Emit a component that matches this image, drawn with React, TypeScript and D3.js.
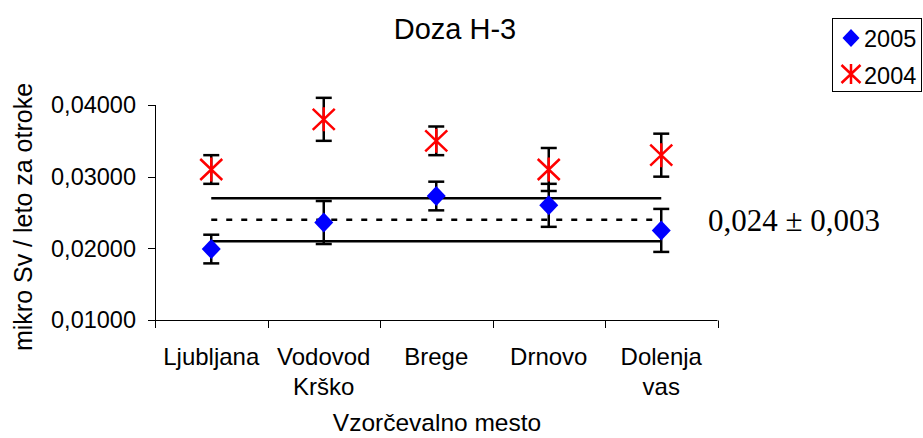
import React from "react";
import * as d3 from "d3";

const categories = ["Ljubljana", "Vodovod Krško", "Brege", "Drnovo", "Dolenja vas"];
const categoryLines = [["Ljubljana"], ["Vodovod", "Krško"], ["Brege"], ["Drnovo"], ["Dolenja", "vas"]];
const values2005 = [0.0199, 0.0236, 0.0273, 0.026, 0.0225];
const errors2005 = [0.002, 0.003, 0.002, 0.003, 0.003];
const values2004 = [0.031, 0.038, 0.035, 0.031, 0.033];
const errors2004 = [0.002, 0.003, 0.002, 0.003, 0.003];
const yTicks = [0.01, 0.02, 0.03, 0.04];
const meanValue = 0.024;
const meanSpread = 0.003;
const seriesNames = ["2005", "2004"];
const title = "Doza H-3";
const yTitle = "mikro Sv / leto za otroke";
const xTitle = "Vzorčevalno mesto";
const annotation = "0,024 ± 0,003";

const SANS = "'Liberation Sans', Arial, sans-serif";
const SERIF = "'Liberation Serif', 'Times New Roman', serif";

const diamondPath = (w: number, h: number) => `M0,${-h}L${w},0L0,${h}L${-w},0Z`;
const starPath = (w: number, h: number, v: number) =>
  `M${-w},${-h}L${w},${h}M${-w},${h}L${w},${-h}M0,${-v}L0,${v}`;

export default function App() {
  const W = 923;
  const H = 438;
  const x = d3.scaleBand<string>().domain(categories).range([155, 717.5]);
  const cx = (c: string) => (x(c) as number) + x.bandwidth() / 2;
  const y = d3.scaleLinear().domain([0.01, 0.04]).range([320, 105]);
  const fmt = (v: number) => d3.format(".5f")(v).replace(".", ",");
  const boundaries = [x.range()[0], ...categories.map((c) => (x(c) as number) + x.bandwidth())];
  const x0 = cx(categories[0]);
  const x1 = cx(categories[categories.length - 1]);
  const capW = 8;

  const errorBar = (c: string, v: number, e: number, key: string) => {
    const px = cx(c);
    return (
      <g key={key} stroke="#000" strokeWidth={2.5} fill="none">
        <line x1={px} x2={px} y1={y(v + e)} y2={y(v - e)} />
        <line x1={px - capW} x2={px + capW} y1={y(v + e)} y2={y(v + e)} />
        <line x1={px - capW} x2={px + capW} y1={y(v - e)} y2={y(v - e)} />
      </g>
    );
  };

  return (
    <svg width={W} height={H} style={{ position: "absolute", left: 0, top: 0, background: "#fff" }}>
      <rect x={0} y={0} width={W} height={H} fill="#fff" />
      {/* title */}
      <text x={455} y={39} textAnchor="middle" fontFamily={SANS} fontSize={29} fill="#000">
        {title}
      </text>

      {/* y axis */}
      <line x1={155.5} x2={155.5} y1={y(0.04)} y2={328} stroke="#000" strokeWidth={1} />
      {yTicks.map((t) => (
        <g key={t}>
          <line x1={148} x2={155.5} y1={Math.round(y(t)) + 0.5} y2={Math.round(y(t)) + 0.5} stroke="#000" />
          <text x={136} y={y(t)} dy="0.36em" textAnchor="end" fontFamily={SANS} fontSize={23.5} fill="#000">
            {fmt(t)}
          </text>
        </g>
      ))}

      {/* x axis */}
      <line x1={155} x2={boundaries[boundaries.length - 1]} y1={320.5} y2={320.5} stroke="#000" strokeWidth={1} />
      {boundaries.map((b, i) => (
        <line key={i} x1={Math.round(b) + 0.5} x2={Math.round(b) + 0.5} y1={320.5} y2={328} stroke="#000" />
      ))}
      {categories.map((c, i) => (
        <text key={c} x={cx(c)} y={365} textAnchor="middle" fontFamily={SANS} fontSize={24} fill="#000">
          {categoryLines[i].map((ln, j) => (
            <tspan key={j} x={cx(c)} dy={j === 0 ? 0 : 30}>
              {ln}
            </tspan>
          ))}
        </text>
      ))}
      <text x={437} y={431} textAnchor="middle" fontFamily={SANS} fontSize={24.5} fill="#000">
        {xTitle}
      </text>
      <text
        transform="translate(32,217) rotate(-90)"
        textAnchor="middle"
        fontFamily={SANS}
        fontSize={25}
        fill="#000"
      >
        {yTitle}
      </text>

      {/* reference lines */}
      <line x1={x0} x2={x1} y1={y(meanValue + meanSpread)} y2={y(meanValue + meanSpread)} stroke="#000" strokeWidth={2.5} />
      <line x1={x0} x2={x1} y1={y(meanValue - meanSpread)} y2={y(meanValue - meanSpread)} stroke="#000" strokeWidth={2.5} />
      <line
        x1={x0}
        x2={x1}
        y1={y(meanValue)}
        y2={y(meanValue)}
        stroke="#000"
        strokeWidth={2.5}
        strokeDasharray="6 9"
      />

      {/* error bars */}
      {categories.map((c, i) => errorBar(c, values2005[i], errors2005[i], "e5" + i))}
      {categories.map((c, i) => errorBar(c, values2004[i], errors2004[i], "e4" + i))}

      {/* markers */}
      {categories.map((c, i) => (
        <path key={"d" + i} d={diamondPath(9.5, 10)} transform={`translate(${cx(c)},${y(values2005[i])})`} fill="#0000FF" />
      ))}
      {categories.map((c, i) => (
        <path
          key={"s" + i}
          d={starPath(11, 10.5, 12)}
          transform={`translate(${cx(c)},${y(values2004[i])})`}
          fill="none"
          stroke="#FF0000"
          strokeWidth={2.5}
        />
      ))}

      {/* annotation */}
      <text x={708} y={231} fontFamily={SERIF} fontSize={31} fill="#000">
        {annotation}
      </text>

      {/* legend */}
      <rect x={832.5} y={18.5} width={89} height={73} fill="#fff" stroke="#000" strokeWidth={1} />
      <path d={diamondPath(8.5, 9)} transform="translate(851,38)" fill="#0000FF" />
      <text x={864} y={47} fontFamily={SANS} fontSize={23.5} fill="#000">
        {seriesNames[0]}
      </text>
      <path d={starPath(9.5, 9, 10)} transform="translate(851,74)" fill="none" stroke="#FF0000" strokeWidth={2.5} />
      <text x={864} y={84} fontFamily={SANS} fontSize={23.5} fill="#000">
        {seriesNames[1]}
      </text>
    </svg>
  );
}
